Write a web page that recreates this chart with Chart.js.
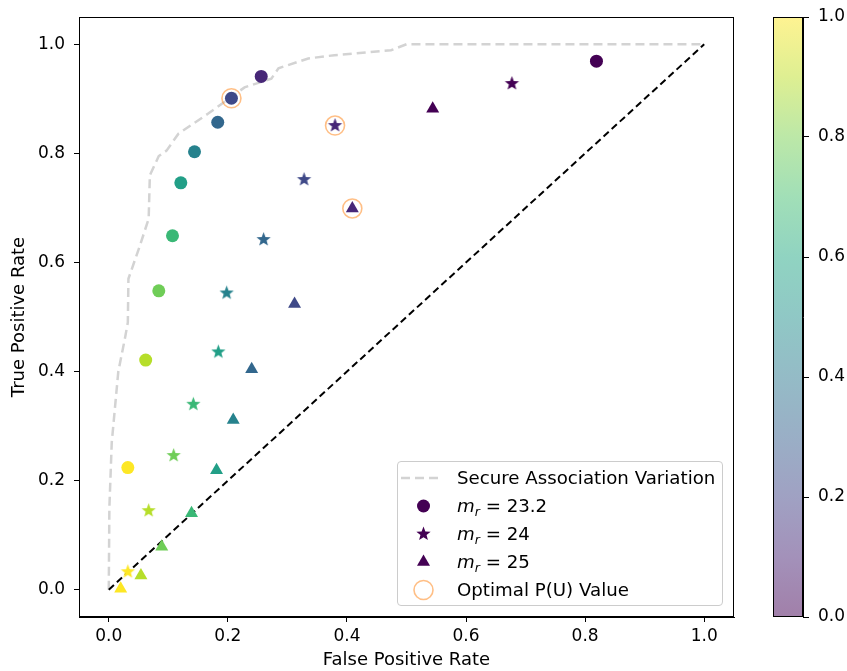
<!DOCTYPE html>
<html>
<head>
<meta charset="utf-8">
<script src="https://cdn.jsdelivr.net/npm/chart.js@4"></script>
<style>
  html, body { margin: 0; padding: 0; background: #fff; }
  #wrap { position: relative; width: 847px; height: 671px; overflow: hidden; font-family: "DejaVu Sans", sans-serif; }
  #main { position: absolute; left: 0; top: 0; }
  #cbar { position: absolute; left: 760px; top: 0; }
  #legend { position: absolute; left: 397px; top: 461px; width: 326px; height: 145px; box-sizing: border-box;
    border: 1px solid #cccccc; border-radius: 4px; background: rgba(255,255,255,0.8); }
  .row { position: absolute; left: 0; height: 28px; width: 100%; }
  .row .sym { position: absolute; left: 0; top: 0; width: 60px; height: 28px; }
  .row .txt { position: absolute; left: 59px; top: 0; line-height: 28px; font-size: 18.2px; color: #000; white-space: nowrap; }
  .row sub { font-size: 12.5px; vertical-align: -4px; line-height: 0; }
</style>
</head>
<body>
<div id="wrap">
  <canvas id="main" width="760" height="671"></canvas>
  <canvas id="cbar" width="87" height="671"></canvas>
  <div id="legend"></div>
</div>
<script>
// ---------------- data ----------------
const pValues   = [0.0, 0.11, 0.22, 0.33, 0.44, 0.56, 0.67, 0.78, 0.89, 1.0];

const circleFPR = [0.819, 0.256, 0.206, 0.183, 0.144, 0.121, 0.107, 0.084, 0.062, 0.032];
const circleTPR = [0.969, 0.941, 0.901, 0.857, 0.803, 0.746, 0.649, 0.548, 0.421, 0.224];

const starFPR   = [0.677, 0.380, 0.328, 0.260, 0.198, 0.184, 0.142, 0.109, 0.067, 0.032];
const starTPR   = [0.928, 0.851, 0.752, 0.642, 0.544, 0.436, 0.340, 0.246, 0.145, 0.033];

const triFPR    = [0.544, 0.409, 0.312, 0.240, 0.209, 0.181, 0.139, 0.089, 0.054, 0.020];
const triTPR    = [0.882, 0.699, 0.524, 0.404, 0.311, 0.219, 0.140, 0.079, 0.026, 0.002];

const optFPR    = [0.206, 0.380, 0.409];
const optTPR    = [0.901, 0.851, 0.699];

const rocFPR    = [0, 0.001, 0.005, 0.016, 0.027, 0.032, 0.033, 0.052, 0.067, 0.069, 0.084, 0.097, 0.117, 0.167, 0.228, 0.273, 0.285, 0.335, 0.379, 0.474, 0.500, 1.0];
const rocTPR    = [0, 0.150, 0.270, 0.400, 0.460, 0.490, 0.570, 0.630, 0.680, 0.760, 0.795, 0.805, 0.836, 0.873, 0.921, 0.937, 0.956, 0.974, 0.980, 0.989, 1.000, 1.0];

const diagFPR   = [0, 1];
const diagTPR   = [0, 1];

const axisTicks = [0, 0.2, 0.4, 0.6, 0.8, 1.0];
const cbarTicks = [0, 0.2, 0.4, 0.6, 0.8, 1.0];

const legendLabels = ['Secure Association Variation', '<i>m</i><sub><i>r</i></sub> = 23.2', '<i>m</i><sub><i>r</i></sub> = 24', '<i>m</i><sub><i>r</i></sub> = 25', 'Optimal P(U) Value'];

// ---------------- helpers ----------------
const VIR = ['#440154','#482475','#414487','#355f8d','#2a788e','#21918c','#22a884','#44bf70','#7ad151','#bddf26','#fde725'];
function hex2rgb(h){ return [parseInt(h.slice(1,3),16), parseInt(h.slice(3,5),16), parseInt(h.slice(5,7),16)]; }
function viridis(t, a){
  t = Math.max(0, Math.min(1, t));
  const f = t * 10, i = Math.min(9, Math.floor(f)), u = f - i;
  const c0 = hex2rgb(VIR[i]), c1 = hex2rgb(VIR[i+1]);
  const c = c0.map((v,k)=>Math.round(v + (c1[k]-v)*u));
  return a === undefined ? `rgb(${c[0]},${c[1]},${c[2]})` : `rgba(${c[0]},${c[1]},${c[2]},${a})`;
}
function starCanvas(color, R){
  const s = Math.ceil(R*2+2), c = document.createElement('canvas');
  c.width = s; c.height = s;
  const g = c.getContext('2d');
  g.fillStyle = color; g.beginPath();
  for (let k = 0; k < 10; k++){
    const r = k % 2 === 0 ? R : R*0.42;
    const ang = -Math.PI/2 + k*Math.PI/5;
    const px = s/2 + r*Math.cos(ang), py = s/2 + r*Math.sin(ang);
    k === 0 ? g.moveTo(px,py) : g.lineTo(px,py);
  }
  g.closePath(); g.fill();
  return c;
}
const pts = (xs, ys) => xs.map((x,i)=>({x, y: ys[i]}));

Chart.defaults.font.family = '"DejaVu Sans", sans-serif';
Chart.defaults.font.size = 17;
Chart.defaults.color = '#000';

const frame = {
  id: 'frame',
  afterDraw(chart){
    const a = chart.chartArea, c = chart.ctx;
    c.save(); c.strokeStyle = '#000'; c.lineWidth = 1;
    c.strokeRect(Math.round(a.left)+0.5, Math.round(a.top)+0.5, Math.round(a.right-a.left)-1, Math.round(a.bottom-a.top)-1);
    c.restore();
  }
};

const fixTicks = arr => (scale) => { scale.ticks = arr.map(v=>({value:v})); };
const fitW = w => s => { s.width = w; s.paddingTop = 0; s.paddingBottom = 0; };

// ---------------- main chart ----------------
new Chart(document.getElementById('main'), {
  type: 'scatter',
  data: {
    datasets: [
      { type: 'line', label: legendLabels[0], data: pts(rocFPR, rocTPR), borderColor: '#d3d3d3', borderWidth: 2.5,
        borderDash: [9, 5], pointRadius: 0, tension: 0, fill: false, order: 10 },
      { type: 'line', label: 'diag', data: pts(diagFPR, diagTPR), borderColor: '#000', borderWidth: 2,
        borderDash: [7, 4], pointRadius: 0, tension: 0, fill: false, order: 9 },
      { label: 'c', data: pts(circleFPR, circleTPR), pointStyle: 'circle', pointRadius: 6.5, pointHoverRadius: 6.5,
        backgroundColor: pValues.map(v=>viridis(v)), borderWidth: 0, order: 5 },
      { label: 's', data: pts(starFPR, starTPR), pointStyle: pValues.map(v=>starCanvas(viridis(v), 7.5)),
        pointRadius: 8, borderWidth: 0, order: 4 },
      { label: 't', data: pts(triFPR, triTPR), pointStyle: 'triangle', pointRadius: 7.5, pointHoverRadius: 7.5,
        backgroundColor: pValues.map(v=>viridis(v)), borderWidth: 0, order: 3 },
      { label: 'o', data: pts(optFPR, optTPR), pointStyle: 'circle', pointRadius: 9.5, pointHoverRadius: 9.5,
        backgroundColor: 'rgba(0,0,0,0)', borderColor: 'rgba(255,127,14,0.5)', borderWidth: 1.6, order: 1 }
    ]
  },
  options: {
    responsive: false, animation: false, events: [],
    layout: { padding: { left: 0, top: 17, right: 26, bottom: 0 } },
    plugins: { legend: { display: false }, tooltip: { enabled: false } },
    scales: {
      x: {
        type: 'linear', min: -0.05, max: 1.05,
        afterBuildTicks: fixTicks(axisTicks),
        afterFit: s => { s.height = 54; s.paddingLeft = 0; s.paddingRight = 0; },
        ticks: { callback: v => v.toFixed(1), padding: 4, maxRotation: 0, autoSkip: false },
        grid: { display: true, drawOnChartArea: false, drawTicks: true, tickLength: 5, color: '#000' },
        border: { display: true, color: '#000' },
        title: { display: true, text: 'False Positive Rate', font: { size: 18 }, padding: { top: 0, bottom: 0 } }
      },
      y: {
        type: 'linear', min: -0.05, max: 1.05,
        afterBuildTicks: fixTicks(axisTicks),
        afterFit: fitW(79),
        ticks: { callback: v => v.toFixed(1), padding: 9, autoSkip: false },
        grid: { display: true, drawOnChartArea: false, drawTicks: true, tickLength: 5, color: '#000' },
        border: { display: true, color: '#000' },
        title: { display: true, text: 'True Positive Rate', font: { size: 18 }, padding: { top: 9, bottom: 0 } }
      }
    }
  },
  plugins: [frame]
});

// ---------------- colorbar ----------------
new Chart(document.getElementById('cbar'), {
  type: 'bar',
  data: {
    labels: [''],
    datasets: [{
      data: [[0, 1]],
      barPercentage: 1, categoryPercentage: 1, borderWidth: 0, borderSkipped: false,
      backgroundColor: (ctx) => {
        const a = ctx.chart.chartArea; if (!a) return 'rgba(0,0,0,0)';
        const g = ctx.chart.ctx.createLinearGradient(0, a.bottom, 0, a.top);
        for (let k = 0; k <= 10; k++) g.addColorStop(k/10, viridis(k/10, 0.5));
        return g;
      }
    }]
  },
  options: {
    responsive: false, animation: false, events: [],
    layout: { padding: { left: 13, top: 17, right: 0, bottom: 54 } },
    plugins: { legend: { display: false }, tooltip: { enabled: false } },
    scales: {
      x: { display: false, offset: true },
      y: {
        position: 'right', min: 0, max: 1,
        afterBuildTicks: fixTicks(cbarTicks),
        afterFit: fitW(44),
        ticks: { callback: v => v.toFixed(1), padding: 9, autoSkip: false },
        grid: { display: true, drawOnChartArea: false, drawTicks: true, tickLength: 6, color: '#000' },
        border: { display: true, color: '#000' }
      }
    }
  },
  plugins: [frame]
});

// ---------------- legend (HTML) ----------------
(function(){
  const L = document.getElementById('legend');
  const purple = viridis(0);
  const syms = [
    '<svg width="60" height="28"><line x1="3" y1="14" x2="44" y2="14" stroke="#d3d3d3" stroke-width="2.5" stroke-dasharray="9 5"/></svg>',
    `<svg width="60" height="28"><circle cx="25.5" cy="14" r="6.5" fill="${purple}"/></svg>`,
    `<svg width="60" height="28"><polygon fill="${purple}" points="${(()=>{let p=[];for(let k=0;k<10;k++){const r=k%2===0?7.5:3.2;const a=-Math.PI/2+k*Math.PI/5;p.push((25.5+r*Math.cos(a)).toFixed(2)+','+(14+r*Math.sin(a)).toFixed(2));}return p.join(' ');})()}"/></svg>`,
    `<svg width="60" height="28"><polygon fill="${purple}" points="25.5,6.5 32,17.75 19,17.75"/></svg>`,
    '<svg width="60" height="28"><circle cx="25.5" cy="14" r="9.5" fill="none" stroke="rgba(255,127,14,0.5)" stroke-width="1.6"/></svg>'
  ];
  legendLabels.forEach((t, i) => {
    const r = document.createElement('div');
    r.className = 'row';
    r.style.top = (2 + i*28) + 'px';
    r.innerHTML = `<div class="sym">${syms[i]}</div><div class="txt">${t}</div>`;
    L.appendChild(r);
  });
})();
</script>
</body>
</html>
